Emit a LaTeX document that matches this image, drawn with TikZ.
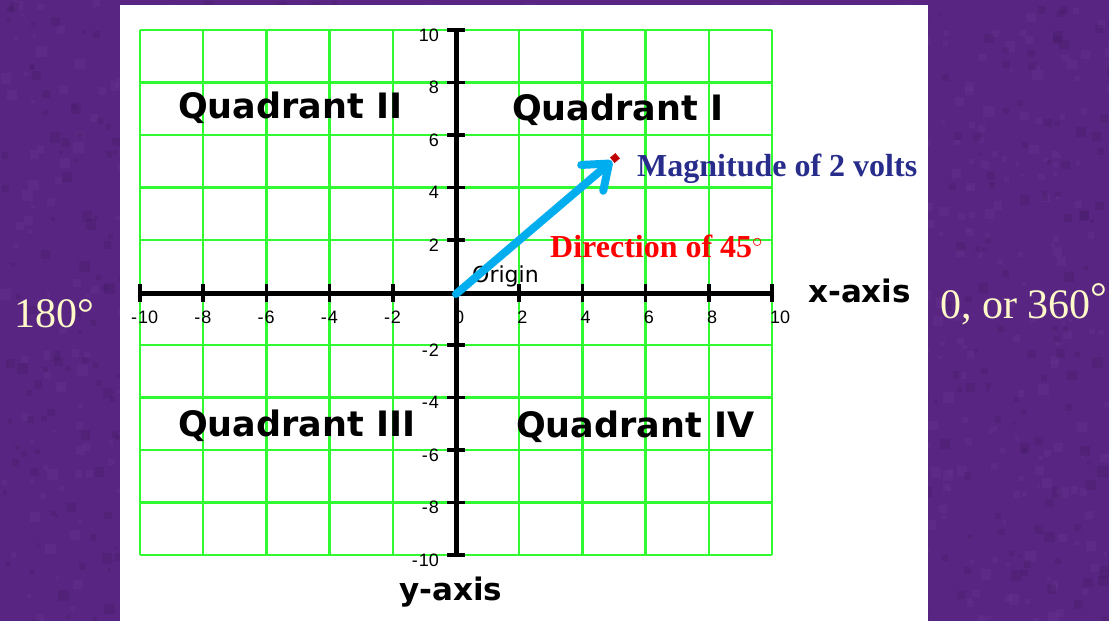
\documentclass[tikz,border=0pt]{standalone}
\usepackage{fontspec}
\setmainfont{Liberation Serif}
\newfontfamily\dvs{DejaVu Sans}
\newfontfamily\lsans{Liberation Sans}
\usetikzlibrary{arrows.meta}
\definecolor{bgpurple}{RGB}{88,38,130}
\definecolor{bglight}{RGB}{125,65,165}
\definecolor{bgdark}{RGB}{55,20,85}
\definecolor{gridgreen}{RGB}{50,250,50}
\definecolor{veccyan}{RGB}{0,174,239}
\definecolor{magblue}{RGB}{40,45,140}
\definecolor{dirred}{RGB}{255,0,0}
\definecolor{cream}{RGB}{255,248,200}
\definecolor{tipred}{RGB}{190,0,0}
\begin{document}
\begin{tikzpicture}[x=1pt,y=-1pt,
  gridline/.style={gridgreen,line width=2.5pt},
  axisline/.style={black,line width=5pt},
  tickline/.style={black,line width=3.5pt},
  quad/.style={anchor=base west,inner sep=0pt,font=\dvs\bfseries\fontsize{35}{40}\selectfont},
  axlabel/.style={anchor=base west,inner sep=0pt,font=\dvs\bfseries\fontsize{31}{36}\selectfont},
  ticklab/.style={inner sep=0pt,font=\lsans\fontsize{18}{20}\selectfont},
  angle/.style={anchor=base west,inner sep=0pt,text=cream,font=\fontsize{42}{48}\selectfont},
  note/.style={anchor=base west,inner sep=0pt,font=\bfseries\fontsize{32}{36}\selectfont},
  vec/.style={veccyan,line width=8pt,line cap=round,-{Straight Barb[length=22pt,width=34pt,round]}}]
\useasboundingbox (0,0) rectangle (1109,621);
% background
\fill[bgpurple] (0,0) rectangle (1109,621);
\pgfmathsetseed{17}
\foreach \k in {1,...,900}{
  \pgfmathsetmacro\xx{rnd*1109}
  \pgfmathsetmacro\yy{rnd*621}
  \pgfmathsetmacro\rr{3+rnd*8}
  \fill[bglight,opacity=0.15] (\xx,\yy) rectangle ++(\rr,\rr);
}
\foreach \k in {1,...,700}{
  \pgfmathsetmacro\xx{rnd*1109}
  \pgfmathsetmacro\yy{rnd*621}
  \pgfmathsetmacro\rr{3+rnd*8}
  \fill[bgdark,opacity=0.18] (\xx,\yy) rectangle ++(\rr,\rr);
}
\fill[white] (120,5) rectangle (928,621);
% grid
\foreach \i in {0,...,10}{
  \draw[gridline] ({140+63.2*\i},30) -- ({140+63.2*\i},555);
  \draw[gridline] (140,{30+52.5*\i}) -- (772,{30+52.5*\i});
}
% axes
\draw[axisline] (140,293) -- (772,293);
\draw[axisline] (456,30) -- (456,555);
\foreach \i in {0,...,10}{
  \draw[tickline] ({140+63.2*\i},284) -- ({140+63.2*\i},302);
  \draw[tickline] (447,{30+52.5*\i}) -- (465,{30+52.5*\i});
}
% x tick labels
\foreach \v [count=\i from 0] in {10,8,6,4,2}{
  \node[ticklab,anchor=base west] (xn\i) at ({138+63.2*\i},323) {\llap{-\kern1pt}\v};
}
\foreach \v [count=\i from 5] in {0,2,4,6,8,10}{
  \node[ticklab,anchor=base west] (xp\i) at ({138+63.2*\i},323) {\v};
}
% y tick labels
\foreach \v [count=\i from 0] in {10,8,6,4,2}{
  \node[ticklab,anchor=base east] (yp\i) at (439,{41+52.5*\i}) {\v};
}
\foreach \v [count=\i from 6] in {2,4,6,8,10}{
  \node[ticklab,anchor=base east] (yn\i) at (439,{41+52.5*\i}) {-\kern1pt\v};
}
% labels
\node[anchor=base west,inner sep=0pt,font=\dvs\fontsize{22}{26}\selectfont] (origin) at (472,282) {Origin};
\node[quad] (q2) at (178,118) {Quadrant II};
\node[quad] (q1) at (512,120) {Quadrant I};
\node[quad] (q3) at (178,436) {Quadrant III};
\node[quad] (q4) at (516,437) {Quadrant IV};
\node[axlabel] (xax) at (808,302) {x-axis};
\node[axlabel] (yax) at (399,600) {y-axis};
\node[angle] (a180) at (14,327) {180°};
\node[angle] (a360) at (940,318) {0, or 360\raisebox{7pt}{°}};
% vector
\coordinate (O) at (456,294);
\coordinate (tip) at (612,161);
\draw[vec] (O) -- (tip);
\node[fill=tipred,minimum size=7pt,inner sep=0pt,rotate=40] (tipmark) at (615,158) {};
\node[note,text=magblue] (mag) at (637,176) {Magnitude of 2 volts};
\node[note,text=dirred] (dir) at (550,257) {Direction of 45$^{\scriptstyle\circ}$};
\end{tikzpicture}
\end{document}
